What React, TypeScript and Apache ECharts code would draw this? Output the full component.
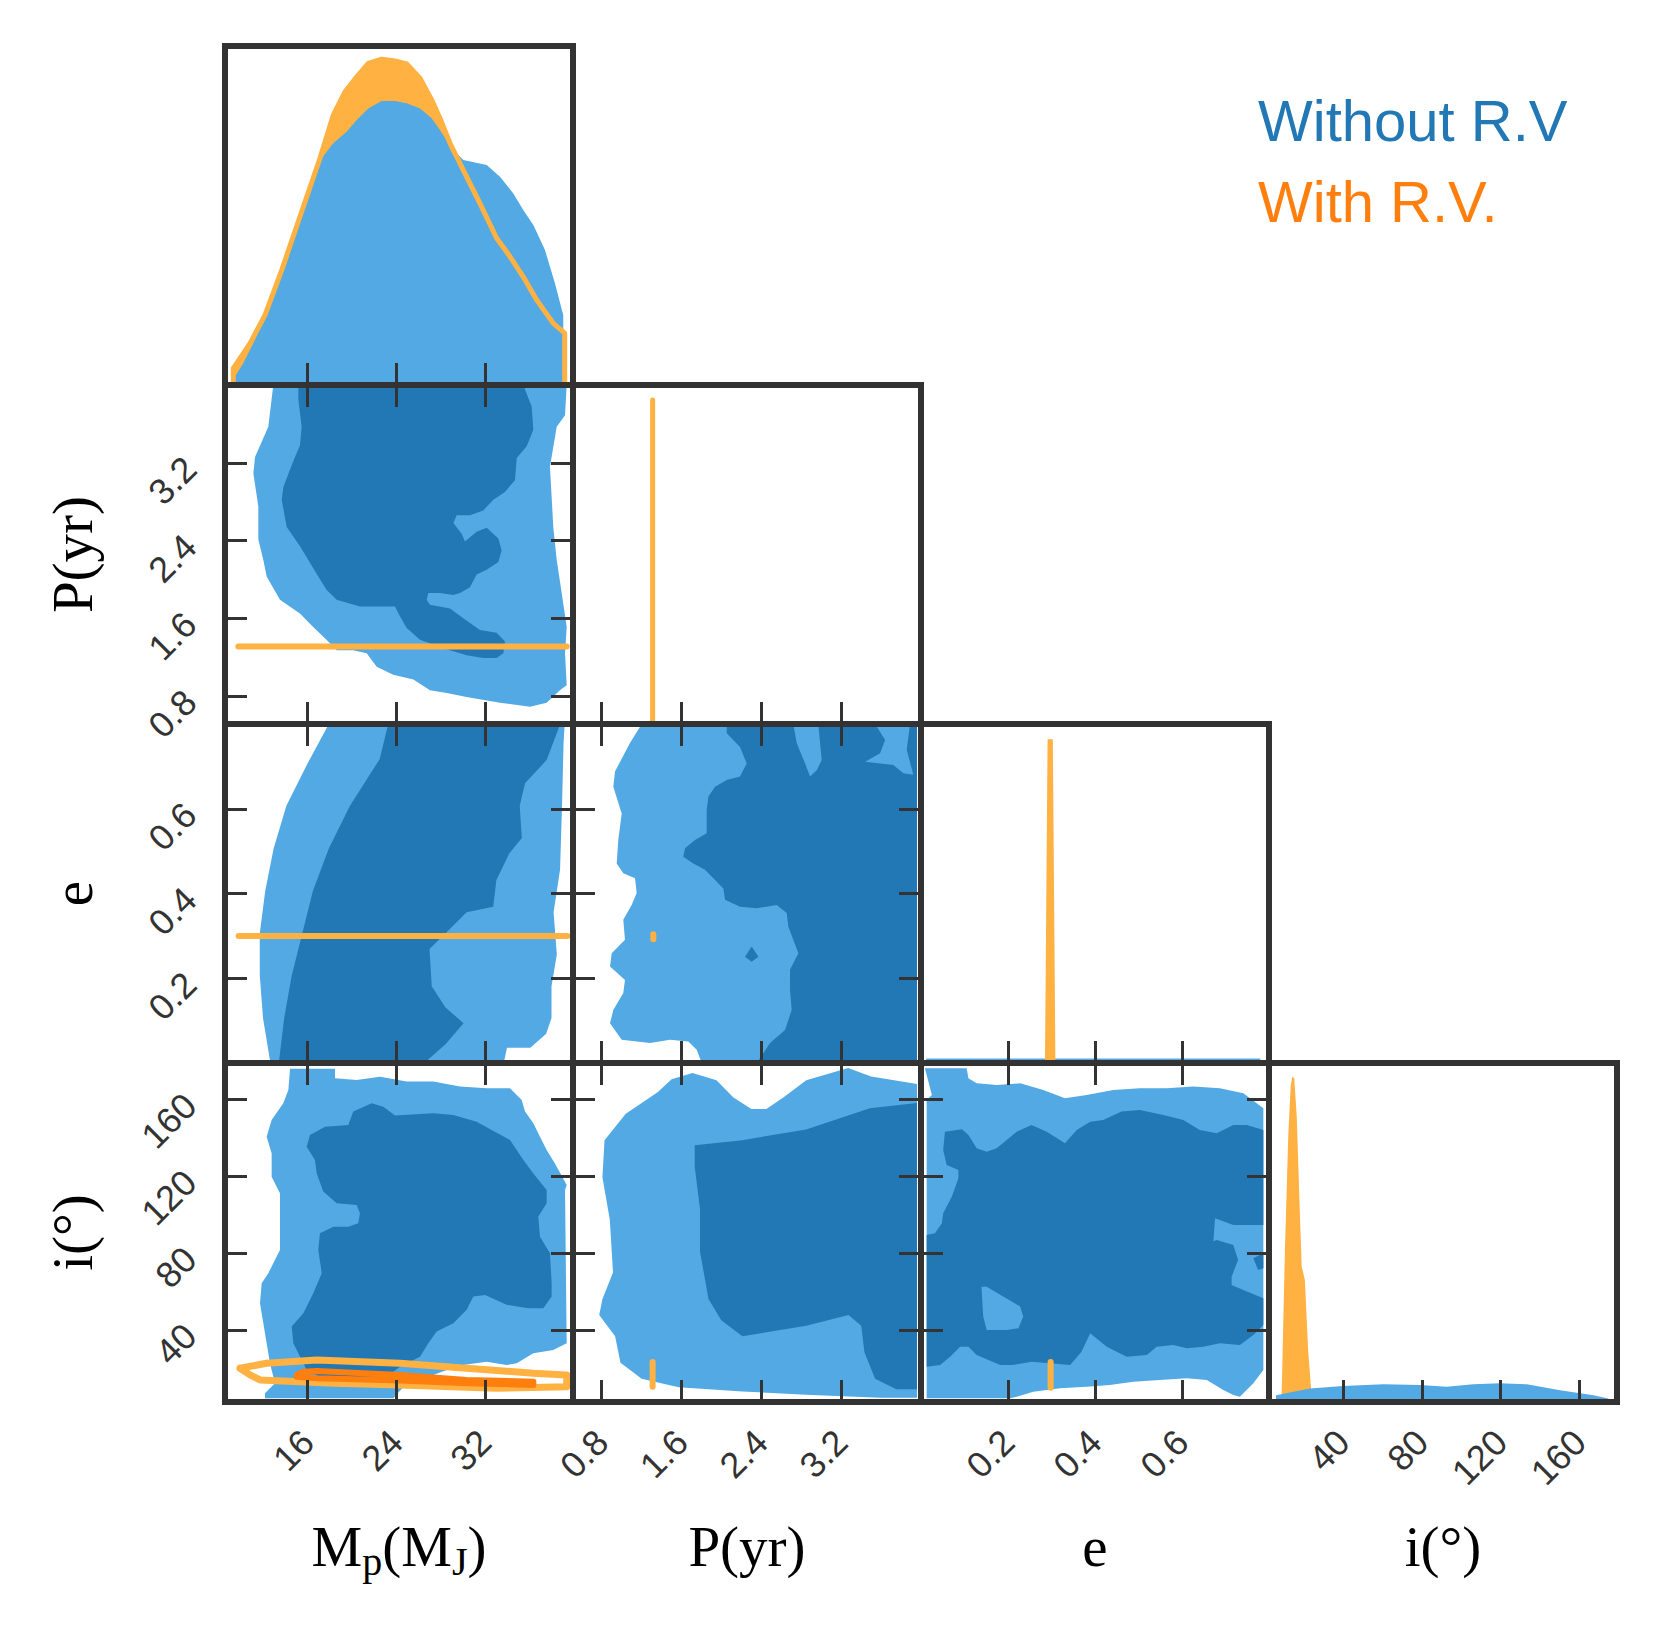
import React, { useEffect, useRef } from 'react';
import * as echarts from 'echarts';

// ---------- colours ----------
const LIGHT_BLUE = '#52a9e4';
const DARK_BLUE = '#2178b4';
const LIGHT_ORANGE = '#ffb142';
const DARK_ORANGE = '#ff7f0e';
const FRAME = '#333333';

// ---------- axes (M_p, P, e, i) ----------
const M_RANGE = [8.54, 39.95];
const P_RANGE = [0.512, 4.0];
const E_RANGE = [0, 0.8];
const I_RANGE = [2.4, 179];
const M_TICKS = [16, 24, 32];
const P_TICKS = [0.8, 1.6, 2.4, 3.2];
const E_TICKS = [0.2, 0.4, 0.6];
const I_TICKS = [40, 80, 120, 160];
const AXIS_TITLES = ['M_p(M_J)', 'P(yr)', 'e', 'i(°)'];

// ---------- 1D marginals: [value, density] ----------
const M_HIST_WITHOUT = [[9.44,0],[9.44,0.025],[10.19,0.064],[11.1,0.123],[12.15,0.202],[13.5,0.319],[15.01,0.467],[16.21,0.585],[17.27,0.669],[18.31,0.713],[19.52,0.747],[20.43,0.782],[21.47,0.816],[22.68,0.838],[23.88,0.838],[24.94,0.831],[26.14,0.816],[27.19,0.787],[27.94,0.752],[29.0,0.698],[30.05,0.664],[32.16,0.649],[33.36,0.614],[34.56,0.565],[35.46,0.516],[36.37,0.472],[37.42,0.398],[38.32,0.3],[39.07,0.206],[39.07,0]];
const M_HIST_WITH = [[9.29,0],[9.29,0.049],[10.8,0.123],[12.15,0.206],[13.66,0.339],[15.31,0.497],[17.11,0.669],[18.31,0.796],[19.37,0.865],[20.43,0.909],[21.47,0.949],[22.68,0.961],[23.88,0.956],[24.94,0.947],[26.14,0.905],[27.19,0.841],[27.94,0.787],[28.85,0.713],[30.05,0.634],[31.55,0.536],[33.06,0.433],[34.26,0.379],[35.46,0.319],[36.67,0.251],[38.17,0.182],[39.2,0.153],[39.2,0]];
const P_HIST_WITH = [[1.31,0],[1.31,0.956]];
const E_HIST_WITHOUT = [[0.012,0],[0.012,0.013],[0.78,0.013],[0.78,0]];
const E_HIST_WITH = [[0.285,0],[0.291,0.955],[0.303,0.955],[0.309,0]];
const I_HIST_WITHOUT = [[5.95,0],[5.95,0.02],[23.2,0.04],[40.1,0.047],[60.4,0.052],[79,0.05],[92.6,0.045],[106.1,0.052],[119.6,0.055],[133.2,0.052],[150.1,0.035],[167,0.02],[174.6,0.01],[174.6,0]];
const I_HIST_WITH = [[8.5,0],[8.8,0.02],[10.5,0.45],[12.2,0.79],[13.4,0.93],[14.2,0.96],[15.2,0.955],[16.5,0.84],[18.1,0.55],[19.0,0.4],[20.6,0.36],[22.3,0.15],[24.0,0.02],[24.2,0]];

// ---------- 2D credible regions (without R.V.) ----------
const MP_OUTER = [[12.9,4.0],[12.45,3.57],[11.25,3.26],[11.1,3.09],[11.55,2.75],[11.55,2.41],[12.0,2.2],[12.3,2.03],[13.5,1.79],[15.3,1.65],[16.5,1.51],[17.7,1.38],[18.62,1.27],[20.12,1.27],[21.33,1.24],[22.23,1.10],[23.73,1.02],[25.54,0.97],[27.04,0.86],[28.55,0.83],[30.35,0.79],[33.36,0.73],[36.07,0.69],[37.57,0.73],[38.77,0.86],[39.38,0.91],[39.23,1.24],[39.38,1.51],[38.93,1.86],[38.48,2.2],[38.17,2.54],[37.87,3.16],[38.48,3.57],[39.23,3.69],[39.38,4.0]];
const MP_INNER = [[15.16,4.0],[35.46,4.0],[36.22,3.78],[36.37,3.54],[35.77,3.37],[34.87,3.25],[34.71,3.02],[33.81,2.90],[32.76,2.82],[31.85,2.71],[30.65,2.66],[29.45,2.66],[29.15,2.58],[29.9,2.47],[30.2,2.39],[31.25,2.49],[32.16,2.53],[33.21,2.42],[33.51,2.30],[33.21,2.18],[32.16,2.10],[31.25,2.05],[30.65,1.92],[29.75,1.86],[29.15,1.84],[27.94,1.86],[26.89,1.86],[26.74,1.79],[27.04,1.74],[28.85,1.70],[30.05,1.60],[31.55,1.48],[33.06,1.45],[33.81,1.36],[33.66,1.24],[33.06,1.19],[31.85,1.19],[30.35,1.22],[28.85,1.27],[27.34,1.33],[26.14,1.38],[24.94,1.50],[24.33,1.62],[23.88,1.72],[22.23,1.72],[20.72,1.72],[18.62,1.79],[17.72,1.89],[16.96,2.03],[16.21,2.17],[15.31,2.34],[14.11,2.54],[13.66,2.82],[13.81,2.95],[14.41,3.13],[14.86,3.26],[15.31,3.38],[15.46,3.57],[15.16,3.85]];

const ME_OUTER = [[17.91,0.8],[15.99,0.707],[14.08,0.607],[12.93,0.506],[12.17,0.406],[11.68,0.306],[11.68,0.206],[11.97,0.106],[12.64,0.0],[33.7,0.0],[33.99,0.036],[36.1,0.036],[37.53,0.069],[38.01,0.106],[38.01,0.181],[38.49,0.256],[38.2,0.356],[38.78,0.456],[38.96,0.607],[39.1,0.757],[39.2,0.8]];
const ME_INNER = [[23.27,0.8],[22.5,0.717],[19.82,0.607],[17.91,0.506],[16.47,0.406],[15.52,0.306],[14.56,0.206],[13.88,0.106],[13.4,0.0],[26.52,0.0],[28.44,0.044],[30.07,0.094],[28.44,0.131],[27.2,0.181],[27.0,0.269],[28.63,0.311],[30.35,0.356],[32.75,0.369],[33.03,0.431],[34.18,0.494],[35.33,0.531],[35.14,0.607],[35.62,0.66],[37.57,0.715],[38.8,0.8]];

const PE_OUTER = [[1.201,0.8],[1.083,0.755],[0.933,0.688],[0.916,0.652],[1.0,0.589],[0.966,0.526],[0.95,0.471],[1.016,0.448],[1.134,0.436],[1.15,0.401],[1.1,0.373],[1.016,0.338],[1.033,0.291],[0.9,0.259],[0.883,0.228],[1.033,0.196],[1.016,0.165],[0.916,0.125],[0.883,0.094],[1.0,0.055],[1.284,0.047],[1.484,0.055],[1.668,0.051],[1.752,0.031],[1.802,0.0],[3.96,0.0],[3.96,0.8]];
const PE_INNER = [[2.053,0.8],[2.053,0.778],[2.186,0.746],[2.253,0.707],[2.186,0.676],[2.053,0.668],[1.936,0.652],[1.869,0.629],[1.852,0.597],[1.852,0.542],[1.735,0.526],[1.635,0.507],[1.618,0.487],[1.718,0.471],[1.835,0.456],[1.936,0.432],[2.019,0.412],[2.036,0.385],[2.186,0.369],[2.354,0.365],[2.554,0.373],[2.654,0.354],[2.67,0.322],[2.771,0.259],[2.687,0.22],[2.687,0.173],[2.704,0.125],[2.637,0.078],[2.487,0.047],[2.354,0.0],[3.96,0.0],[3.96,0.8]];
const PE_HOLE_A = [[2.72,0.8],[2.754,0.755],[2.838,0.707],[2.888,0.676],[2.955,0.691],[3.005,0.715],[2.988,0.755],[2.971,0.8]];
const PE_HOLE_B = [[3.54,0.8],[3.64,0.762],[3.59,0.731],[3.44,0.711],[3.723,0.703],[3.823,0.684],[3.923,0.68],[3.857,0.739],[3.89,0.8]];
const PE_ISLAND = [[2.236,0.251],[2.303,0.275],[2.37,0.251],[2.303,0.239]];

const MI_OUTER = [[14.41,176],[18.47,176],[18.47,171],[20.42,170.1],[22.53,171.9],[24.94,169.3],[27.34,169.3],[29.75,166.7],[32.16,165.8],[34.26,165.8],[35.32,159.7],[35.62,153.7],[36.37,147.6],[36.97,140.6],[37.57,133.7],[38.32,126.7],[39.38,115.5],[39.23,112.9],[39.38,33],[38.17,29.5],[36.37,27.8],[34.87,22.6],[33.96,21.7],[32.16,23.4],[30.05,21.7],[28.55,19.1],[27.34,16.5],[24.94,12.2],[23.73,4.4],[12.15,4.4],[12.15,7],[13.05,12.2],[12.6,22.6],[12.3,33],[12.0,43.4],[11.7,53.8],[11.85,64.3],[12.45,69.5],[13.5,81.6],[13.5,95.5],[13.5,111.1],[12.75,119.8],[12.75,132],[12.3,140.6],[12.75,149.3],[13.8,158],[14.26,164.9]];
const MI_INNER = [[20.12,153.7],[21.78,158],[22.83,156.2],[23.88,151.6],[27.34,152.8],[29.15,151.9],[31.25,148.4],[34.26,138.9],[35.47,128.5],[36.37,121.5],[37.57,112.9],[37.57,105.9],[36.82,99],[36.97,88.5],[37.87,79.9],[38.02,64.3],[38.02,57.3],[37.27,51.2],[35.92,51.2],[33.96,53],[32.01,58.2],[30.95,57.3],[30.35,50.4],[29.15,43.4],[27.64,39.1],[26.89,33],[26.14,26],[24.33,20.8],[23.13,15.6],[21.33,13.9],[19.52,13],[17.72,13.9],[15.91,19.1],[14.71,33],[14.56,41.7],[15.61,48.6],[16.51,59.1],[17.27,69.5],[16.96,81.6],[17.11,90.3],[18.32,93.7],[19.67,93.7],[20.57,95.5],[20.72,100.7],[20.42,105],[18.62,105.9],[17.41,112],[16.82,121.5],[16.66,128.5],[15.91,135.4],[16.21,141.5],[17.57,145.8],[19.67,146.7]];

const PI_OUTER = [[1.36,163.7],[1.5,170.5],[1.71,173.8],[1.95,170],[2.12,161],[2.3,155],[2.45,155],[2.62,161],[2.85,170],[3.27,176.4],[3.5,172],[3.96,168],[3.96,4.6],[3.593,4.6],[2.849,6.2],[2.21,7.9],[1.572,10.1],[1.2,14.5],[0.988,22.8],[0.934,36.6],[0.775,47.7],[0.807,56],[0.913,69.8],[0.881,97.4],[0.807,119.5],[0.828,138.8],[1.041,152.6]];
const PI_INNER = [[1.732,136.1],[2.21,138.8],[2.849,144.4],[3.487,155.4],[3.96,158.2],[3.96,9],[3.752,9],[3.54,14.5],[3.433,28.3],[3.401,42.1],[3.274,47.7],[2.849,42.1],[2.21,36.6],[1.998,45],[1.87,56],[1.785,80.8],[1.785,102.9],[1.732,125]];

const EI_OUTER = [[0.009,176.2],[0.105,176.2],[0.109,171],[0.128,168.4],[0.174,167.5],[0.228,168.4],[0.281,164.9],[0.331,160.6],[0.381,162.3],[0.442,164.9],[0.503,165.8],[0.565,165.8],[0.626,166.7],[0.687,165.8],[0.741,163.2],[0.787,155.4],[0.787,19.1],[0.764,12.2],[0.733,5.2],[0.718,6.1],[0.695,8.7],[0.657,13.9],[0.611,14.8],[0.549,13.9],[0.488,13],[0.434,11.3],[0.381,10.4],[0.32,9.6],[0.258,7.8],[0.22,5.2],[0.205,4.4],[0.013,4.4],[0.013,159.7],[0.025,162.3]];
const EI_INNER = [[0.055,143.2],[0.094,144.5],[0.109,141.5],[0.128,134.6],[0.151,132.8],[0.174,134.6],[0.197,138.9],[0.22,143.2],[0.254,146.7],[0.289,143.2],[0.331,137.2],[0.358,144.1],[0.389,148.4],[0.419,149.3],[0.461,153.7],[0.503,154.5],[0.557,151.9],[0.603,149.3],[0.641,144.1],[0.68,142.4],[0.718,146.7],[0.749,146.7],[0.787,144.1],[0.787,94.6],[0.718,94.6],[0.676,98.1],[0.672,85.9],[0.634,83.3],[0.68,86.8],[0.718,84.2],[0.729,76.4],[0.714,67.7],[0.714,63.4],[0.741,60.8],[0.787,56.4],[0.787,42.5],[0.764,37.3],[0.733,32.1],[0.687,33],[0.649,31.2],[0.611,30.4],[0.58,32.1],[0.542,31.2],[0.519,26.9],[0.473,26],[0.427,31.2],[0.389,38.2],[0.369,28.6],[0.343,21.7],[0.297,22.6],[0.254,23.4],[0.212,21.7],[0.182,21.7],[0.128,26.9],[0.109,31.2],[0.09,31.2],[0.067,26],[0.044,21.7],[0.013,20.8],[0.013,89.4],[0.032,90.3],[0.048,95.5],[0.051,100.7],[0.071,109.4],[0.086,118.9],[0.086,123.3],[0.059,125.9],[0.051,133.7]];
const EI_HOLE = [[0.139,62.5],[0.151,62.5],[0.228,52.1],[0.235,46.9],[0.224,40.8],[0.197,39.9],[0.151,39.9],[0.143,46.9]];
const EI_ISLAND = [[0.764,77.3],[0.787,79.9],[0.787,72.1],[0.775,71.2]];

// ---------- 2D results with R.V. ----------
const MP_RV = [[9.74,1.31],[39.38,1.31]];
const ME_RV = [[9.77,0.3],[39.44,0.3]];
const PE_RV = [[1.317,0.292],[1.317,0.304]];
const PI_RV = [[1.31,10.3],[1.31,23.3]];
const EI_RV = [[0.298,9.8],[0.298,23.3]];
const MI_RV_OUTER = [[9.89,20],[12.3,22.6],[16.82,24.3],[24.33,22.6],[30.35,20],[36.37,17.4],[39.38,16.5],[39.38,10.4],[33.06,9.6],[24.33,11.3],[18.32,12.2],[11.7,13.9],[10.8,16.5],[9.89,20]];
const MI_RV_INNER = [[15.01,16.5],[15.61,18.2],[16.82,18.6],[24.33,16.5],[30.35,13.9],[36.37,13],[36.37,11.3],[30.35,12.2],[24.33,13.6],[16.82,14.8],[15.01,15.5],[15.01,16.5]];

const RANGES = [M_RANGE, P_RANGE, E_RANGE, I_RANGE];
const TICKS = [M_TICKS, P_TICKS, E_TICKS, I_TICKS];
const DECIMALS = [0, 1, 1, 0];

// layout
const X0 = 225, Y0 = 46, CW = 348, CH = 339;

function makeAxis(gridIndex: number, position: string, range: number[], ticks: number[], showTicks: boolean, showLabels: boolean, decimals: number) {
  const vertical = position === 'left' || position === 'right';
  return {
    type: 'value', gridIndex, position, min: range[0], max: range[1], z: 10,
    axisLine: { show: true, onZero: false, lineStyle: { color: FRAME, width: 6, cap: 'square' } },
    axisTick: { show: showTicks, inside: true, length: 22, lineStyle: { color: FRAME, width: 3 }, customValues: ticks },
    axisLabel: {
      show: showLabels, customValues: ticks, rotate: 45, margin: vertical ? 35 : 34, fontSize: 36, color: FRAME,
      fontFamily: 'Liberation Sans', formatter: (v: number) => Number(v).toFixed(decimals),
    },
    splitLine: { show: false },
  };
}

function buildOption() {
  const grids: any[] = [];
  const xAxes: any[] = [];
  const yAxes: any[] = [];
  const ax: Record<string, { x: number; y: number }> = {};
  for (let r = 0; r < 4; r++) {
    for (let c = 0; c <= r; c++) {
      const gi = grids.length;
      grids.push({ left: X0 + c * CW, top: Y0 + r * CH, width: CW, height: CH, containLabel: false, outerBoundsMode: 'none', show: false });
      const diag = r === c;
      const yr = diag ? [0, 1] : RANGES[r];
      const xi = xAxes.length;
      xAxes.push(makeAxis(gi, 'bottom', RANGES[c], TICKS[c], true, r === 3, DECIMALS[c]));
      xAxes.push(makeAxis(gi, 'top', RANGES[c], TICKS[c], !diag, false, DECIMALS[c]));
      const yi = yAxes.length;
      yAxes.push(makeAxis(gi, 'left', yr, diag ? [] : TICKS[r], !diag, !diag && c === 0, DECIMALS[r]));
      yAxes.push(makeAxis(gi, 'right', yr, diag ? [] : TICKS[r], !diag, false, DECIMALS[r]));
      ax[`${r}${c}`] = { x: xi, y: yi };
    }
  }

  const polygon = (a: { x: number; y: number }, pts: number[][], color: string) => ({
    type: 'custom', xAxisIndex: a.x, yAxisIndex: a.y, silent: true, z: 2,
    data: [pts[0]], encode: { x: 0, y: 1 },
    renderItem: (_p: any, api: any) => ({
      type: 'polygon',
      shape: { points: pts.map((p) => api.coord(p)) },
      style: { fill: color, stroke: null },
    }),
  });
  const curve = (a: { x: number; y: number }, pts: number[][], color: string, width: number) => ({
    type: 'line', xAxisIndex: a.x, yAxisIndex: a.y, data: pts, symbol: 'none', silent: true, z: 2,
    lineStyle: { color, width, cap: 'round', join: 'round' },
  });
  const fill = (a: { x: number; y: number }, pts: number[][], color: string) => ({
    type: 'line', xAxisIndex: a.x, yAxisIndex: a.y, data: pts, symbol: 'none', silent: true, z: 2,
    lineStyle: { width: 0, color },
    areaStyle: { color, opacity: 1 },
  });

  const series: any[] = [
    // diagonal marginals
    fill(ax['00'], M_HIST_WITH, LIGHT_ORANGE),
    fill(ax['00'], M_HIST_WITHOUT, LIGHT_BLUE),
    curve(ax['00'], M_HIST_WITH, LIGHT_ORANGE, 5),
    curve(ax['11'], P_HIST_WITH, LIGHT_ORANGE, 5),
    fill(ax['22'], E_HIST_WITHOUT, LIGHT_BLUE),
    fill(ax['22'], E_HIST_WITH, LIGHT_ORANGE),
    fill(ax['33'], I_HIST_WITH, LIGHT_ORANGE),
    fill(ax['33'], I_HIST_WITHOUT, LIGHT_BLUE),
    // M vs P
    polygon(ax['10'], MP_OUTER, LIGHT_BLUE),
    polygon(ax['10'], MP_INNER, DARK_BLUE),
    curve(ax['10'], MP_RV, LIGHT_ORANGE, 6),
    // M vs e
    polygon(ax['20'], ME_OUTER, LIGHT_BLUE),
    polygon(ax['20'], ME_INNER, DARK_BLUE),
    curve(ax['20'], ME_RV, LIGHT_ORANGE, 6),
    // P vs e
    polygon(ax['21'], PE_OUTER, LIGHT_BLUE),
    polygon(ax['21'], PE_INNER, DARK_BLUE),
    polygon(ax['21'], PE_HOLE_A, LIGHT_BLUE),
    polygon(ax['21'], PE_HOLE_B, LIGHT_BLUE),
    polygon(ax['21'], PE_ISLAND, DARK_BLUE),
    curve(ax['21'], PE_RV, LIGHT_ORANGE, 6),
    // M vs i
    polygon(ax['30'], MI_OUTER, LIGHT_BLUE),
    polygon(ax['30'], MI_INNER, DARK_BLUE),
    curve(ax['30'], MI_RV_OUTER, LIGHT_ORANGE, 7),
    curve(ax['30'], MI_RV_INNER, DARK_ORANGE, 6),
    // P vs i
    polygon(ax['31'], PI_OUTER, LIGHT_BLUE),
    polygon(ax['31'], PI_INNER, DARK_BLUE),
    curve(ax['31'], PI_RV, LIGHT_ORANGE, 6),
    // e vs i
    polygon(ax['32'], EI_OUTER, LIGHT_BLUE),
    polygon(ax['32'], EI_INNER, DARK_BLUE),
    polygon(ax['32'], EI_HOLE, LIGHT_BLUE),
    polygon(ax['32'], EI_ISLAND, DARK_BLUE),
    curve(ax['32'], EI_RV, LIGHT_ORANGE, 6),
  ];

  const serif = 'Liberation Serif, Times New Roman, serif';
  const titleStyle = { fontSize: 57, fontFamily: serif, fill: '#000', align: 'center', verticalAlign: 'middle' };
  const graphics: any[] = [];
  const richM = {
    text: '{m|M}{s|p}{m|(M}{s|J}{m|)}',
    rich: {
      m: { fontSize: 57, fontFamily: serif, fill: '#000', lineHeight: 70 },
      s: { fontSize: 40, fontFamily: serif, fill: '#000', lineHeight: 50, verticalAlign: 'bottom' },
    },
    align: 'center', verticalAlign: 'middle',
  };
  // bottom titles
  for (let c = 0; c < 4; c++) {
    const x = X0 + c * CW + CW / 2;
    const y = 1546;
    graphics.push(c === 0
      ? { type: 'text', x, y, style: richM, silent: true }
      : { type: 'text', x, y, style: { ...titleStyle, text: AXIS_TITLES[c] }, silent: true });
  }
  // left titles
  for (let r = 1; r < 4; r++) {
    graphics.push({
      type: 'text', x: 72, y: Y0 + r * CH + CH / 2, rotation: Math.PI / 2,
      style: { ...titleStyle, text: AXIS_TITLES[r] }, silent: true,
    });
  }
  // legend
  graphics.push({ type: 'text', x: 1258, y: 120, style: { text: 'Without R.V', fontSize: 58, fontFamily: 'Liberation Sans, Arial, sans-serif', fill: DARK_BLUE, align: 'left', verticalAlign: 'middle' }, silent: true });
  graphics.push({ type: 'text', x: 1258, y: 201, style: { text: 'With R.V.', fontSize: 58, fontFamily: 'Liberation Sans, Arial, sans-serif', fill: DARK_ORANGE, align: 'left', verticalAlign: 'middle' }, silent: true });

  return {
    animation: false,
    backgroundColor: '#ffffff',
    grid: grids,
    xAxis: xAxes,
    yAxis: yAxes,
    series,
    graphic: { elements: graphics },
  };
}

export default function App() {
  const ref = useRef<HTMLDivElement>(null);
  useEffect(() => {
    const chart = echarts.init(ref.current as HTMLDivElement, null, { renderer: 'svg' });
    chart.setOption(buildOption() as any);
    return () => chart.dispose();
  }, []);
  return (
    <div
      ref={ref}
      style={{ position: 'absolute', left: 0, top: 0, width: 1663, height: 1634, background: '#fff' }}
    />
  );
}
